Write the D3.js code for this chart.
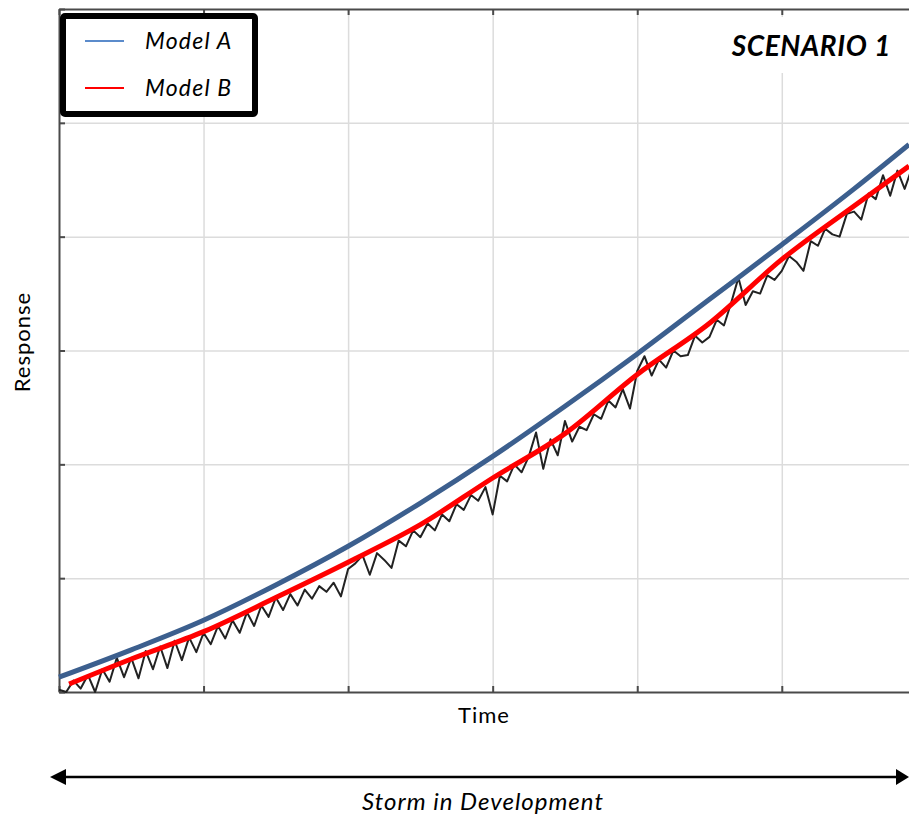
<!DOCTYPE html>
<html>
<head>
<meta charset="utf-8">
<script src="https://cdn.jsdelivr.net/npm/d3@7"></script>
<style>
  body { margin: 0; background: #fff; }
  svg { display: block; }
  text { font-family: Lato, "Open Sans", sans-serif; }
</style>
</head>
<body>
<svg id="chart" width="909" height="816"></svg>
<script>
// model curves (time in grid units, response in grid units)
var modelATime = [0, 0.5, 1, 1.5, 2, 2.5, 3, 3.5, 4, 4.5, 5, 5.5, 5.88];
var modelA     = [0.13, 0.37, 0.63, 0.94, 1.28, 1.66, 2.07, 2.51, 2.97, 3.45, 3.93, 4.42, 4.81];
var modelBTime = [0.07, 0.5, 1, 1.5, 2, 2.5, 3, 3.5, 4, 4.5, 5, 5.5, 5.88];
var modelB     = [0.07, 0.29, 0.53, 0.83, 1.14, 1.47, 1.88, 2.27, 2.79, 3.24, 3.80, 4.27, 4.62];

// observed (noisy) trace, one sample every 0.05 time units starting at 0
var obsStep = 0.05;
var observed = [
  0.02, 0.00, 0.10, 0.03, 0.15, 0.00, 0.20, 0.09, 0.30, 0.13,
  0.30, 0.12, 0.36, 0.20, 0.40, 0.21, 0.45, 0.28, 0.48, 0.35,
  0.52, 0.42, 0.58, 0.47, 0.63, 0.52, 0.70, 0.58, 0.76, 0.66,
  0.83, 0.72, 0.86, 0.76, 0.90, 0.82, 0.93, 0.88, 0.96, 0.84,
  1.08, 1.13, 1.20, 1.03, 1.22, 1.16, 1.09, 1.33, 1.28, 1.42,
  1.36, 1.48, 1.42, 1.56, 1.50, 1.65, 1.60, 1.73, 1.68, 1.80,
  1.56, 1.90, 1.85, 2.00, 1.93, 2.07, 2.28, 1.96, 2.22, 2.08,
  2.38, 2.20, 2.33, 2.30, 2.44, 2.40, 2.56, 2.50, 2.66, 2.49,
  2.82, 2.95, 2.78, 2.92, 2.85, 3.00, 2.95, 2.96, 3.13, 3.07,
  3.12, 3.27, 3.22, 3.42, 3.64, 3.40, 3.52, 3.50, 3.66, 3.62,
  3.70, 3.83, 3.78, 3.70, 3.96, 3.92, 4.07, 4.02, 4.00, 4.20,
  4.22, 4.15, 4.38, 4.33, 4.54, 4.36, 4.58, 4.42, 4.60
];

var xTicks = [0, 1, 2, 3, 4, 5];
var yTicks = [0, 1, 2, 3, 4, 5, 6];

var svg = d3.select('#chart');
var pLeft = 59, pRight = 909, pTop = 9, pBottom = 692;

var x = d3.scaleLinear().domain([0, 5.88]).range([pLeft, pRight]);
var y = d3.scaleLinear().domain([0, 6]).range([pBottom, pTop]);

// grid
svg.append('g')
  .attr('transform', 'translate(0,' + pBottom + ')')
  .call(d3.axisBottom(x).tickValues(xTicks.slice(1)).tickSize(-(pBottom - pTop)).tickFormat(''))
  .call(g => g.select('.domain').remove())
  .selectAll('line').attr('stroke', '#dcdcdc').attr('stroke-width', 1.5);
svg.append('g')
  .attr('transform', 'translate(' + pLeft + ',0)')
  .call(d3.axisLeft(y).tickValues(yTicks.slice(1, -1)).tickSize(-(pRight - pLeft)).tickFormat(''))
  .call(g => g.select('.domain').remove())
  .selectAll('line').attr('stroke', '#dcdcdc').attr('stroke-width', 1.5);

// frame with inward ticks
function frame(g) {
  g.select('.domain').attr('stroke', '#4a4a4a').attr('stroke-width', 2);
  g.selectAll('.tick line').attr('stroke', '#4a4a4a').attr('stroke-width', 2);
}
svg.append('g').attr('transform', 'translate(0,' + pBottom + ')')
  .call(d3.axisBottom(x).tickValues(xTicks).tickSizeInner(-6).tickSizeOuter(0).tickFormat(''))
  .call(frame);
svg.append('g').attr('transform', 'translate(0,' + pTop + ')')
  .call(d3.axisTop(x).tickValues(xTicks).tickSizeInner(-6).tickSizeOuter(0).tickFormat(''))
  .call(frame);
svg.append('g').attr('transform', 'translate(' + pLeft + ',0)')
  .call(d3.axisLeft(y).tickValues(yTicks).tickSizeInner(-6).tickSizeOuter(0).tickFormat(''))
  .call(frame);

// lines
var plot = svg.append('g');
var obsLine = d3.line()
  .x((d, i) => x(i * obsStep))
  .y(d => y(d));
plot.append('path')
  .datum(observed)
  .attr('d', obsLine)
  .attr('fill', 'none')
  .attr('stroke', '#222')
  .attr('stroke-width', 2)
  .attr('stroke-linejoin', 'round');

var smooth = d3.line()
  .x(d => x(d[0]))
  .y(d => y(d[1]))
  .curve(d3.curveMonotoneX);
plot.append('path')
  .datum(d3.zip(modelATime, modelA))
  .attr('d', smooth)
  .attr('fill', 'none')
  .attr('stroke', '#3c5f8e')
  .attr('stroke-width', 5);
plot.append('path')
  .datum(d3.zip(modelBTime, modelB))
  .attr('d', smooth)
  .attr('fill', 'none')
  .attr('stroke', '#ff0000')
  .attr('stroke-width', 5);

// legend
var leg = svg.append('g');
leg.append('rect')
  .attr('x', 63).attr('y', 16).attr('width', 192).attr('height', 98)
  .attr('rx', 2)
  .attr('fill', '#fff').attr('stroke', '#000').attr('stroke-width', 6);
var legItems = [['Model A', '#5b8bcb', 41], ['Model B', '#ff0000', 88]];
legItems.forEach(function(it) {
  leg.append('line')
    .attr('x1', 85).attr('x2', 124).attr('y1', it[2]).attr('y2', it[2])
    .attr('stroke', it[1]).attr('stroke-width', 2);
  leg.append('text')
    .attr('x', 145).attr('y', it[2] + 8)
    .attr('font-size', 23).attr('font-style', 'italic')
    .attr('letter-spacing', 1.2)
    .text(it[0]);
});

// scenario label
svg.append('rect')
  .attr('x', 700).attr('y', 17).attr('width', 209).attr('height', 56)
  .attr('fill', '#fff');
svg.append('text')
  .attr('x', 891).attr('y', 56)
  .attr('text-anchor', 'end')
  .attr('font-size', 28).attr('font-weight', 'bold').attr('font-style', 'italic')
  .attr('letter-spacing', 0.6)
  .text('SCENARIO 1');

// axis titles
svg.append('text')
  .attr('transform', 'translate(30,342) rotate(-90)')
  .attr('text-anchor', 'middle')
  .attr('font-size', 22).attr('letter-spacing', 1)
  .text('Response');
svg.append('text')
  .attr('x', 484).attr('y', 723)
  .attr('text-anchor', 'middle')
  .attr('font-size', 22).attr('letter-spacing', 1)
  .text('Time');

// storm arrow
svg.append('line')
  .attr('x1', 62).attr('x2', 898).attr('y1', 777).attr('y2', 777)
  .attr('stroke', '#000').attr('stroke-width', 2.5);
svg.append('path').attr('d', 'M50,777 L66,769 L66,785 Z').attr('fill', '#000');
svg.append('path').attr('d', 'M909,777 L896,769 L896,785 Z').attr('fill', '#000');
svg.append('text')
  .attr('x', 483).attr('y', 810)
  .attr('text-anchor', 'middle')
  .attr('font-size', 24).attr('font-style', 'italic').attr('letter-spacing', 1)
  .text('Storm in Development');
</script>
</body>
</html>
